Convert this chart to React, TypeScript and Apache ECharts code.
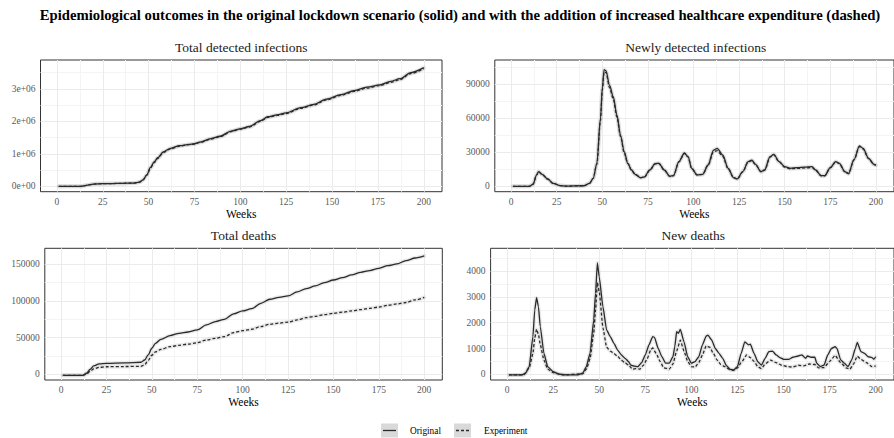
import React, { useEffect, useRef } from "react";
import * as echarts from "echarts";

// ---------- data ----------
const xBreaks = [0, 25, 50, 75, 100, 125, 150, 175, 200];
const xMinorBreaks = [12.5, 37.5, 62.5, 87.5, 112.5, 137.5, 162.5, 187.5];

// Total detected infections
const weeksTotalInf = [1, 13, 16, 20, 25, 30, 35, 42, 45, 47, 49, 51, 53, 55, 58, 62, 67, 72, 75, 78, 84, 89, 95, 100, 105, 111, 115, 120, 125, 133, 140, 147, 155, 162, 169, 176, 182, 187, 193, 200];
const totalInfOriginal = [0, 0, 30000, 70000, 80000, 85000, 90000, 100000, 130000, 200000, 350000, 580000, 750000, 880000, 1060000, 1170000, 1250000, 1290000, 1310000, 1360000, 1470000, 1540000, 1700000, 1770000, 1840000, 2020000, 2140000, 2200000, 2260000, 2420000, 2520000, 2680000, 2820000, 2940000, 3050000, 3120000, 3230000, 3310000, 3500000, 3650000];
const totalInfExperiment = [0, 0, 30000, 70000, 80000, 85000, 90000, 100000, 130000, 200000, 345000, 560000, 730000, 860000, 1040000, 1155000, 1240000, 1280000, 1300000, 1350000, 1455000, 1525000, 1685000, 1760000, 1825000, 2000000, 2120000, 2180000, 2240000, 2400000, 2500000, 2660000, 2800000, 2920000, 3020000, 3100000, 3200000, 3280000, 3470000, 3620000];
const totalInfTicks = [0, 1000000, 2000000, 3000000];
const totalInfMinor = [500000, 1500000, 2500000, 3500000];

// Newly detected infections
const weeksNewInf = [1, 10, 12, 14, 15, 17, 20, 23, 27, 30, 40, 43, 45, 47, 49, 50, 51, 52, 54, 56, 58, 60, 62, 64, 66, 68, 71, 73, 76, 79, 81, 84, 87, 89, 92, 95, 97, 99, 102, 105, 108, 111, 113, 116, 119, 122, 124, 127, 130, 132, 134, 137, 139, 142, 144, 147, 150, 153, 157, 161, 165, 167, 170, 172, 175, 178, 180, 183, 185, 188, 191, 193, 196, 199, 200];
const newInfOriginal = [0, 0, 1800, 10000, 13000, 10600, 6500, 2600, 600, 200, 500, 2600, 7000, 20000, 60000, 86500, 103000, 102000, 89000, 79000, 63000, 45000, 30500, 20300, 14400, 10600, 7600, 8200, 14400, 20000, 20300, 14400, 8800, 9400, 21800, 29400, 26200, 15900, 10000, 10600, 18800, 32000, 33500, 27600, 15900, 7600, 6500, 12900, 21800, 23000, 19400, 12900, 14400, 26200, 28200, 21800, 17400, 15900, 16500, 17000, 17400, 14400, 9400, 9400, 16500, 21800, 20300, 12900, 11200, 23500, 35600, 33500, 24700, 19400, 18800];
const newInfExperiment = [0, 0, 1800, 10000, 12800, 10500, 6400, 2600, 600, 200, 500, 2600, 7000, 19500, 58000, 85000, 101000, 100500, 87000, 77000, 61000, 44000, 29500, 20000, 14200, 10500, 7600, 8000, 14000, 19800, 20100, 14300, 8800, 9300, 21500, 29000, 26000, 15800, 10000, 10500, 18500, 30500, 31500, 26500, 15500, 7600, 6500, 12700, 21500, 22700, 19200, 12800, 14200, 25800, 27800, 21500, 17000, 15500, 15800, 16200, 16500, 14200, 9300, 9300, 16300, 21500, 20000, 12800, 11100, 23200, 35000, 33000, 24400, 19200, 18500];
const newInfTicks = [0, 30000, 60000, 90000];
const newInfMinor = [15000, 45000, 75000, 105000];

// Total deaths
const weeksTotalDeaths = [1, 12, 14, 16, 18, 21, 25, 35, 44, 46, 48, 50, 52, 55, 60, 65, 70, 75, 80, 85, 90, 95, 100, 105, 110, 115, 120, 125, 130, 135, 140, 145, 150, 155, 160, 165, 170, 175, 180, 185, 190, 195, 200];
const totalDeathsOriginal = [-1400, -1400, 1400, 6800, 11400, 14100, 15000, 15500, 16400, 19500, 26400, 35500, 42300, 47700, 52700, 55900, 57700, 60500, 67300, 71800, 75000, 82300, 86400, 89500, 96800, 102300, 105000, 106800, 112300, 116800, 120500, 125000, 128600, 131800, 135500, 139100, 141400, 144500, 148200, 150500, 155000, 158600, 161400];
const totalDeathsExperiment = [-1400, -1400, 300, 4000, 7500, 9500, 10300, 10600, 10900, 13000, 19000, 26000, 30500, 34000, 37700, 39500, 41200, 43000, 46800, 49100, 51400, 56800, 59500, 61400, 65000, 68200, 69800, 71200, 74100, 77300, 79100, 81400, 83200, 84700, 86400, 88200, 90000, 91600, 94100, 95900, 97900, 101400, 104800];
const totalDeathsTicks = [0, 50000, 100000, 150000];
const totalDeathsMinor = [25000, 75000, 125000];

// New deaths
const weeksNewDeathsOriginal = [1, 8, 10, 12, 14, 15, 16, 17, 18, 20, 22, 25, 28, 32, 38, 41, 43, 45, 47, 48, 49, 50, 52, 54, 56, 58, 60, 62, 64, 66, 67, 69, 71, 73, 75, 77, 79, 80, 82, 84, 86, 88, 90, 91, 92, 93, 94, 96, 98, 100, 102, 104, 106, 108, 109, 111, 113, 115, 117, 119, 121, 123, 125, 127, 129, 130, 131, 132, 134, 136, 138, 140, 142, 144, 146, 148, 150, 153, 155, 158, 160, 162, 163, 165, 167, 168, 170, 172, 174, 176, 178, 179, 181, 183, 185, 187, 189, 190, 192, 194, 196, 198, 199, 200];
const newDeathsOriginal = [-25, -25, 40, 300, 1460, 2490, 2970, 2620, 1850, 810, 300, 100, 10, -25, -25, 40, 300, 810, 2100, 3140, 4320, 3780, 2620, 1720, 1460, 1200, 940, 750, 620, 490, 360, 320, 300, 450, 750, 1140, 1460, 1430, 1000, 680, 430, 430, 680, 1070, 1650, 1590, 1740, 1260, 680, 430, 490, 680, 1140, 1480, 1520, 1330, 1000, 810, 620, 340, 190, 170, 300, 810, 1260, 1200, 1140, 1170, 810, 490, 360, 620, 880, 900, 750, 650, 580, 580, 660, 710, 750, 620, 710, 660, 660, 430, 300, 360, 750, 1000, 1070, 1000, 560, 430, 300, 560, 1000, 1240, 880, 810, 680, 650, 580, 680];
const weeksNewDeathsExperiment = [1, 9, 12, 14, 15, 16, 17, 18, 20, 22, 25, 30, 41, 43, 45, 47, 48, 49, 50, 52, 54, 56, 58, 60, 62, 64, 66, 68, 70, 72, 74, 76, 78, 79, 81, 83, 85, 88, 90, 92, 94, 96, 98, 100, 102, 104, 106, 108, 110, 112, 114, 116, 118, 121, 123, 125, 127, 130, 132, 134, 136, 138, 140, 143, 146, 149, 152, 155, 158, 161, 164, 167, 169, 172, 175, 178, 181, 184, 186, 188, 190, 192, 195, 198, 200];
const newDeathsExperiment = [-25, -25, 250, 800, 1400, 1750, 1550, 1150, 550, 200, 70, -25, 20, 200, 600, 1600, 2500, 3550, 3200, 1800, 1050, 900, 800, 700, 550, 450, 350, 200, 220, 200, 350, 600, 950, 1020, 800, 500, 250, 200, 400, 900, 1320, 900, 500, 300, 280, 450, 750, 1100, 1050, 800, 550, 380, 300, 180, 150, 250, 450, 750, 650, 500, 300, 220, 400, 550, 450, 350, 300, 280, 350, 330, 400, 380, 250, 260, 500, 730, 450, 250, 200, 400, 700, 580, 450, 300, 320];
const newDeathsTicks = [0, 1000, 2000, 3000, 4000];
const newDeathsMinor = [500, 1500, 2500, 3500, 4500];

const legendLabels = ["Original", "Experiment"];

// ---------- layout / styles ----------
const FAMILY = "Liberation Serif";
const LINE_COLOR = "#2a2a2a";
const X_MIN = -8.95;
const X_MAX = 209.95;

const zip = (w: number[], v: number[]) => w.map((x, i) => [x, v[i]]);

type Panel = {
  title: string;
  rect: { left: number; top: number; width: number; height: number };
  yMin: number;
  yMax: number;
  yTicks: number[];
  yMinor: number[];
  fmt: (v: number) => string;
  orig: number[][];
  exp: number[][];
  smooth: number;
};

const sciFmt = (v: number) => (v === 0 ? "0e+00" : `${Math.round(v / 1e6)}e+06`);
const plainFmt = (v: number) => String(v);

const panels: Panel[] = [
  {
    title: "Total detected infections",
    rect: { left: 40.5, top: 60, width: 401.5, height: 131.7 },
    yMin: -166000,
    yMax: 3886000,
    yTicks: totalInfTicks,
    yMinor: totalInfMinor,
    fmt: sciFmt,
    orig: zip(weeksTotalInf, totalInfOriginal),
    exp: zip(weeksTotalInf, totalInfExperiment),
    smooth: 0.3,
  },
  {
    title: "Newly detected infections",
    rect: { left: 494.8, top: 60, width: 401.8, height: 131.7 },
    yMin: -4765,
    yMax: 111440,
    yTicks: newInfTicks,
    yMinor: newInfMinor,
    fmt: plainFmt,
    orig: zip(weeksNewInf, newInfOriginal),
    exp: zip(weeksNewInf, newInfExperiment),
    smooth: 0.3,
  },
  {
    title: "Total deaths",
    rect: { left: 44.8, top: 248.3, width: 397.5, height: 131.7 },
    yMin: -7770,
    yMax: 171800,
    yTicks: totalDeathsTicks,
    yMinor: totalDeathsMinor,
    fmt: plainFmt,
    orig: zip(weeksTotalDeaths, totalDeathsOriginal),
    exp: zip(weeksTotalDeaths, totalDeathsExperiment),
    smooth: 0.3,
  },
  {
    title: "New deaths",
    rect: { left: 490.6, top: 248.3, width: 405.2, height: 131.7 },
    yMin: -221,
    yMax: 4884,
    yTicks: newDeathsTicks,
    yMinor: newDeathsMinor,
    fmt: plainFmt,
    orig: zip(weeksNewDeathsOriginal, newDeathsOriginal),
    exp: zip(weeksNewDeathsExperiment, newDeathsExperiment),
    smooth: 0.15,
  },
];

function textEl(x: number, y: number, text: string, size: number, weight: string, fill: string, align: string) {
  return {
    type: "text",
    x,
    y,
    style: {
      text,
      fontFamily: FAMILY,
      fontSize: size,
      fontWeight: weight,
      fill,
      align,
      verticalAlign: "middle",
      textAlign: align,
      textVerticalAlign: "middle",
    },
  };
}

function buildOption() {
  const grid: any[] = [];
  const xAxis: any[] = [];
  const yAxis: any[] = [];
  const series: any[] = [];
  const graphic: any[] = [];

  const major = { color: "#ebebeb", width: 1, type: "solid" };
  const minor = { color: "#f4f4f4", width: 1, type: "solid" };
  const labelStyle = { fontFamily: FAMILY, fontSize: 9.5, color: "#595959", margin: 5 };

  panels.forEach((p, i) => {
    grid.push({
      ...p.rect,
      show: true,
      backgroundColor: "#ffffff",
      borderColor: "#333333",
      borderWidth: 1,
      containLabel: false,
    });
    xAxis.push({
      type: "value",
      gridIndex: i,
      min: X_MIN,
      max: X_MAX,
      name: "Weeks",
      nameLocation: "middle",
      nameGap: 14,
      nameTextStyle: { fontFamily: FAMILY, fontSize: 11.5, color: "#000" },
      axisLine: { show: false },
      axisTick: { show: true, length: 3, lineStyle: { color: "#333333", width: 1 }, customValues: xBreaks },
      axisLabel: { ...labelStyle, customValues: xBreaks },
      splitLine: { show: false },
    });
    yAxis.push({
      type: "value",
      gridIndex: i,
      min: p.yMin,
      max: p.yMax,
      axisLine: { show: false },
      axisTick: { show: true, length: 3, lineStyle: { color: "#333333", width: 1 }, customValues: p.yTicks },
      axisLabel: { ...labelStyle, customValues: p.yTicks, formatter: (v: number) => p.fmt(v) },
      splitLine: { show: false },
    });

    const gridLines = [
      ...xMinorBreaks.map((v) => ({ xAxis: v, lineStyle: minor })),
      ...p.yMinor.map((v) => ({ yAxis: v, lineStyle: minor })),
      ...xBreaks.map((v) => ({ xAxis: v, lineStyle: major })),
      ...p.yTicks.map((v) => ({ yAxis: v, lineStyle: major })),
    ];

    series.push({
      type: "line",
      name: "grid" + i,
      xAxisIndex: i,
      yAxisIndex: i,
      data: [],
      silent: true,
      z: 1,
      markLine: {
        silent: true,
        z: 1,
        symbol: ["none", "none"],
        label: { show: false },
        emphasis: { disabled: true },
        animation: false,
        data: gridLines,
      },
    });
    // confidence-band halos
    [p.exp, p.orig].forEach((d, j) => {
      series.push({
        type: "line",
        name: "band" + i + "_" + j,
        xAxisIndex: i,
        yAxisIndex: i,
        data: d,
        showSymbol: false,
        smooth: p.smooth,
        smoothMonotone: "x",
        z: 2,
        silent: true,
        lineStyle: { color: "rgba(160,160,160,0.22)", width: 4, cap: "round", join: "round" },
        emphasis: { disabled: true },
      });
    });
    series.push({
      type: "line",
      name: "Experiment",
      xAxisIndex: i,
      yAxisIndex: i,
      data: p.exp,
      showSymbol: false,
      smooth: p.smooth,
      smoothMonotone: "x",
      z: 3,
      lineStyle: { color: LINE_COLOR, width: 1.3, type: [3, 2] },
      emphasis: { disabled: true },
    });
    series.push({
      type: "line",
      name: "Original",
      xAxisIndex: i,
      yAxisIndex: i,
      data: p.orig,
      showSymbol: false,
      smooth: p.smooth,
      smoothMonotone: "x",
      z: 4,
      lineStyle: { color: LINE_COLOR, width: 1.3, type: "solid" },
      emphasis: { disabled: true },
    });

    graphic.push(textEl(p.rect.left + p.rect.width / 2, p.rect.top - 13, p.title, 13.5, "normal", "#1a1a1a", "center"));
  });

  // main title
  graphic.push(
    textEl(
      460,
      15,
      "Epidemiological outcomes in the original lockdown scenario (solid) and with the addition of increased healthcare expenditure (dashed)",
      14.7,
      "bold",
      "#000",
      "center"
    )
  );

  // legend
  const keys = [
    { x: 381, label: legendLabels[0], dash: null as any, tx: 410 },
    { x: 454, label: legendLabels[1], dash: [3, 2], tx: 484 },
  ];
  keys.forEach((k) => {
    graphic.push({
      type: "rect",
      shape: { x: k.x, y: 423.5, width: 17, height: 14 },
      style: { fill: "#d9d9d9" },
    });
    graphic.push({
      type: "line",
      shape: { x1: k.x + 2, y1: 430.5, x2: k.x + 15, y2: 430.5 },
      style: { stroke: LINE_COLOR, lineWidth: 1.3, lineDash: k.dash || undefined },
    });
    graphic.push(textEl(k.tx, 430.5, k.label, 9.3, "normal", "#000", "left"));
  });

  return {
    animation: false,
    backgroundColor: "#ffffff",
    grid,
    xAxis,
    yAxis,
    series,
    graphic,
  };
}

export default function App() {
  const ref = useRef<HTMLDivElement>(null);
  useEffect(() => {
    if (!ref.current) return;
    const chart = echarts.init(ref.current, null, { renderer: "svg" });
    chart.setOption(buildOption() as any);
    return () => chart.dispose();
  }, []);
  return (
    <div
      ref={ref}
      style={{ position: "absolute", left: 0, top: 0, width: 894, height: 438, background: "#fff" }}
    />
  );
}
